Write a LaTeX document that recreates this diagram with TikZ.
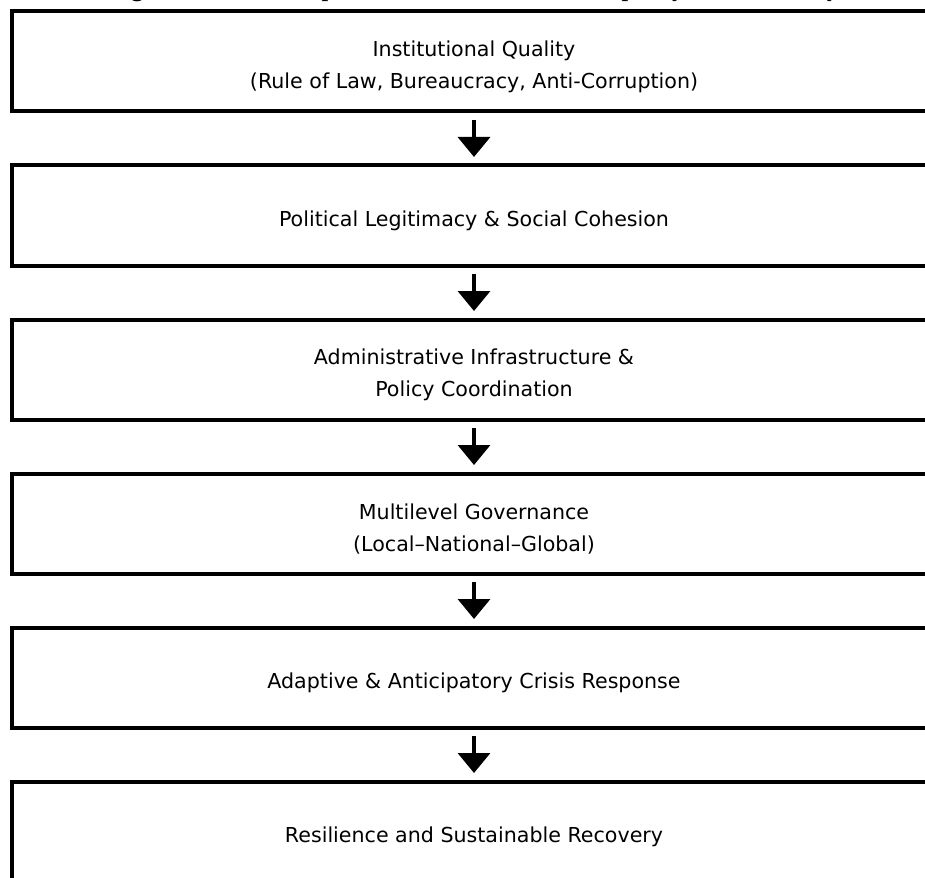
\documentclass[tikz,border=0pt]{standalone}
\usepackage{fontspec}
\newfontfamily\stagefont{DejaVu Sans}
\newfontfamily\captionfont{Liberation Serif}
\usetikzlibrary{arrows.meta}
\usetikzlibrary{positioning}

\tikzset{
	stage/.style={draw, black, line width=4pt, minimum width=924pt, minimum height=100pt, inner sep=0pt},
	stagetext/.style={align=center, yshift=-5.5pt, font={\stagefont\fontsize{20.6}{32}\selectfont}},
	flow/.style={line width=3.5pt, -{Triangle[length=20pt, width=32pt]}, shorten <=6.5pt, shorten >=6.5pt}
}

\begin{document}
\begin{tikzpicture}[x=1pt, y=-1pt]

	%page frame, the boxes run off to the right and bottom
	\useasboundingbox (0,0) rectangle (925,877);
	\clip (0,0) rectangle (925,877);

	%caption, cut off at the top
	\node[anchor=base, inner sep=0pt, font={\captionfont\bfseries\fontsize{24}{28}\selectfont}] (caption) at (474.5,-3) {Figure 1: The Conceptual Framework of State Capacity and Resiliency};

	%stages of the chain
	\node[stage] (s1) at (474,61.5) {};
	\node[stage, below=50pt of s1] (s2) {};
	\node[stage, below=50pt of s2] (s3) {};
	\node[stage, below=50pt of s3] (s4) {};
	\node[stage, below=50pt of s4] (s5) {};
	\node[stage, below=50pt of s5] (s6) {};

	%labels
	\node[stagetext] (t1) at (s1) {Institutional Quality\\(Rule of Law, Bureaucracy, Anti-Corruption)};
	\node[stagetext] (t2) at (s2) {Political Legitimacy \& Social Cohesion};
	\node[stagetext] (t3) at (s3) {Administrative Infrastructure \&\\Policy Coordination};
	\node[stagetext] (t4) at (s4) {Multilevel Governance\\(Local–National–Global)};
	\node[stagetext] (t5) at (s5) {Adaptive \& Anticipatory Crisis Response};
	\node[stagetext] (t6) at (s6) {Resilience and Sustainable Recovery};

	%arrows between stages
	\foreach \a/\b in {s1/s2, s2/s3, s3/s4, s4/s5, s5/s6}
		\draw[flow] (\a) -- (\b);

\end{tikzpicture}
\end{document}
